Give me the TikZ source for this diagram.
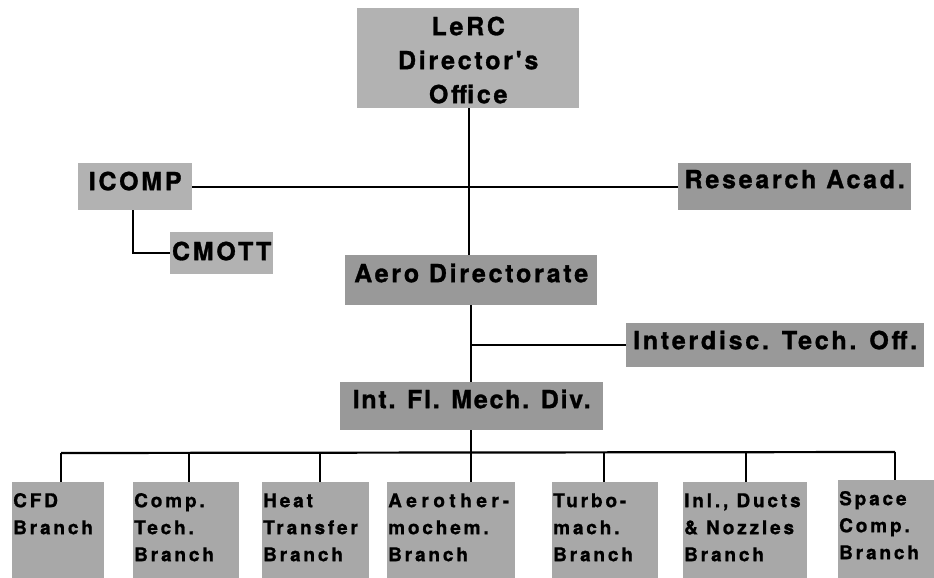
\documentclass[tikz,border=0pt]{standalone}
\usepackage{fontspec}
\newfontfamily\orgfont{TeX Gyre Heros}[LetterSpace=11, BoldFeatures={FakeBold=1.2}]
\newfontfamily\brfont{TeX Gyre Heros}[LetterSpace=15, BoldFeatures={FakeBold=1.0}]
\definecolor{boxlight}{gray}{0.70}
\definecolor{boxdark}{gray}{0.60}
\definecolor{boxmid}{gray}{0.66}
\tikzset{
  orgbox/.style={fill=boxlight, inner sep=0pt, anchor=north west,
    font=\orgfont\bfseries\fontsize{25}{34}\selectfont},
  darkbox/.style={orgbox, fill=boxdark},
  branchbox/.style={fill=boxmid, inner ysep=0pt, inner xsep=1pt, anchor=north west,
    text height=25pt, text depth=73pt,
    font=\brfont\bfseries\fontsize{19}{27}\selectfont},
  link/.style={line width=2.2pt, draw=black}
}
\begin{document}
\begin{tikzpicture}[x=1pt,y=-1pt]
\useasboundingbox (0,0) rectangle (934,578);
% top level
\node[orgbox, text height=27pt, text depth=73pt] (dir) at (357,8)
  {\parbox[t]{222pt}{\centering LeRC\\Director's\\Office}};
\node[orgbox, text height=27pt, text depth=20pt] (icomp) at (78,163)
  {\parbox[t]{114pt}{\centering ICOMP}};
\node[darkbox, text height=25pt, text depth=22pt] (research) at (678,163)
  {\parbox[t]{233pt}{\centering Research Acad.}};
\node[orgbox, text height=28pt, text depth=14pt] (cmott) at (170,232)
  {\parbox[t]{103pt}{\centering CMOTT}};
\node[darkbox, text height=27pt, text depth=23pt] (aero) at (345,255)
  {\parbox[t]{252pt}{\centering Aero Directorate}};
\node[darkbox, text height=26pt, text depth=18pt] (interdisc) at (626,323)
  {\parbox[t]{298pt}{\centering Interdisc. Tech. Off.}};
\node[darkbox, text height=26pt, text depth=22pt] (intfl) at (340,382)
  {\parbox[t]{263pt}{\centering\addfontfeature{LetterSpace=7}Int. Fl. Mech. Div.}};
% branches
\node[branchbox] (cfd) at (12,482) {\parbox[t]{90pt}{\raggedright CFD\\Branch}};
\node[branchbox] (comptech) at (133,482) {\parbox[t]{104pt}{\raggedright Comp.\\Tech.\\Branch}};
\node[branchbox] (heat) at (262,482) {\parbox[t]{105pt}{\raggedright Heat\\Transfer\\Branch}};
\node[branchbox] (aerother) at (387,482) {\parbox[t]{126pt}{\raggedright {\addfontfeature{LetterSpace=24}Aerother-}\\mochem.\\Branch}};
\node[branchbox] (turbo) at (552,482) {\parbox[t]{104pt}{\raggedright Turbo-\\mach.\\Branch}};
\node[branchbox] (inl) at (683,482) {\parbox[t]{122pt}{\raggedright Inl., Ducts\\\& Nozzles\\Branch}};
\node[branchbox] (space) at (838,480) {\parbox[t]{96pt}{\raggedright Space\\Comp.\\Branch}};
% connectors
\coordinate (dirfoot) at (469,108);
\draw[link] (dirfoot) -- (dirfoot |- aero.north);
\draw[link] (icomp.east) -- (research.west);
\draw[link] ([xshift=-2pt]icomp.south) |- (cmott.west);
\coordinate (aerofoot) at (471,305);
\draw[link] (aerofoot) -- (aerofoot |- intfl.north);
\draw[link] (aerofoot |- interdisc.west) -- (interdisc.west);
\coordinate (busmid) at (471,453);
\draw[link] (intfl.south -| busmid) -- (busmid);
\coordinate (b1) at (61,453);
\coordinate (b2) at (189,453);
\coordinate (b3) at (320,453);
\coordinate (b4) at (471,453);
\coordinate (b5) at (604,453);
\coordinate (b6) at (746,453);
\coordinate (b7) at (895,452);
\draw[link] (b1) -- (b7);
\draw[link] (b1) -- (b1 |- cfd.north);
\draw[link] (b2) -- (b2 |- comptech.north);
\draw[link] (b3) -- (b3 |- heat.north);
\draw[link] (b4) -- (b4 |- aerother.north);
\draw[link] (b5) -- (b5 |- turbo.north);
\draw[link] (b6) -- (b6 |- inl.north);
\draw[link] (b7) -- (b7 |- space.north);
\end{tikzpicture}
\end{document}
